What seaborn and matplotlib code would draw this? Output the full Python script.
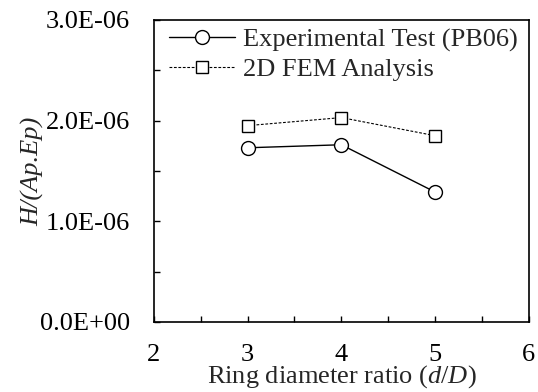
import numpy as np
import pandas as pd
import matplotlib
matplotlib.use("Agg")
import matplotlib.pyplot as plt
from matplotlib.ticker import MultipleLocator, FuncFormatter
import seaborn as sns

# --- data ---
ratio = [3, 4, 5]
exp_vals = [1.73e-6, 1.76e-6, 1.29e-6]
fem_vals = [1.95e-6, 2.03e-6, 1.85e-6]
exp_label = "Experimental Test (PB06)"
fem_label = "2D FEM Analysis"

sns.set_style("ticks")
plt.rcParams["font.family"] = ["Liberation Serif", "DejaVu Serif"]
plt.rcParams["mathtext.fontset"] = "custom"
plt.rcParams["mathtext.rm"] = "Liberation Serif"
plt.rcParams["mathtext.it"] = "Liberation Serif:italic"
fs = 19

df_exp = pd.DataFrame({"ratio": ratio, "val": exp_vals})
df_fem = pd.DataFrame({"ratio": ratio, "val": fem_vals})

fig = plt.figure(figsize=(5.38, 3.92), dpi=100)
ax = fig.add_axes([0.286, 0.179, 0.697, 0.770])

sns.lineplot(data=df_exp, x="ratio", y="val", ax=ax, color="black", lw=1.0,
             marker="o", markersize=10, markerfacecolor="white",
             markeredgecolor="black", markeredgewidth=1.0, label=exp_label)
sns.lineplot(data=df_fem, x="ratio", y="val", ax=ax, color="black", lw=0.8,
             dashes=False, linestyle=(0, (2.5, 1.5)),
             marker="s", markersize=9, markerfacecolor="white",
             markeredgecolor="black", markeredgewidth=1.0, label=fem_label)

ax.set_xlim(2, 6)
ax.set_ylim(0, 3e-6)
ax.xaxis.set_major_locator(MultipleLocator(1))
ax.xaxis.set_minor_locator(MultipleLocator(0.5))
ax.yaxis.set_major_locator(MultipleLocator(1e-6))
ax.yaxis.set_minor_locator(MultipleLocator(0.5e-6))
ax.yaxis.set_major_formatter(FuncFormatter(lambda v, p: "{:.1E}".format(v)))
ax.tick_params(which="both", direction="in", length=4, width=1, colors="black",
               labelsize=fs)
ax.tick_params(axis="y", which="both", pad=17)
ax.tick_params(axis="x", which="both", pad=16)
for s in ax.spines.values():
    s.set_color("black")
    s.set_linewidth(1.2)

ax.set_xlabel("Ring diameter ratio ($d/D$)", fontsize=fs, labelpad=-2)
ax.set_ylabel("H/(Ap.Ep)", fontsize=fs, fontstyle="italic", labelpad=-3)

ax.legend(loc="upper left", bbox_to_anchor=(0.02, 1.0), frameon=False,
          fontsize=fs, handlelength=2.5, handletextpad=0.3, labelspacing=0.22,
          borderaxespad=0.0, borderpad=0.3)

fig.savefig("out.png", dpi=100)
